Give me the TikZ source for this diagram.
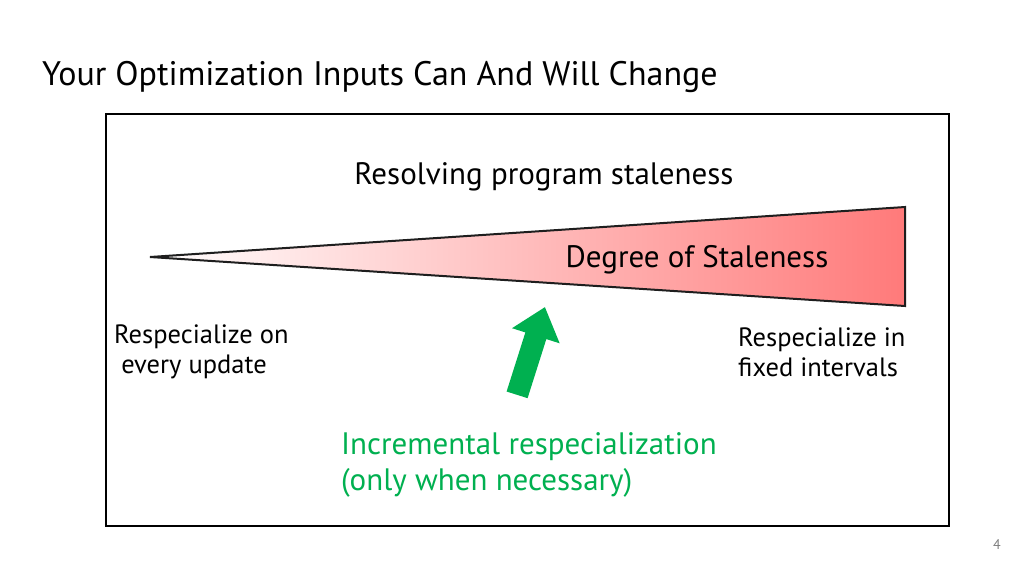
\documentclass[tikz,border=0pt]{standalone}
\usepackage{fontspec}
\setmainfont{PT Sans}
\definecolor{grn}{RGB}{0,176,80}
\definecolor{rd}{RGB}{255,122,122}
\definecolor{dk}{RGB}{30,30,30}
\begin{document}
\begin{tikzpicture}[x=1pt,y=-1pt,
  lbl/.style={inner sep=0pt,font=\fontsize{26.5}{30}\selectfont},
  ]
\useasboundingbox[fill=white] (0,0) rectangle (1024,576);
\node[anchor=west,inner sep=0pt,font=\fontsize{34}{36}\selectfont] (title) at (42,77) {Your Optimization Inputs Can And Will Change};
\node[draw=black,line width=2pt,minimum width=843pt,minimum height=412pt,anchor=north west,inner sep=0pt] (box) at (105,113) {};
\shade[left color=white,right color=rd,draw=dk,line width=2pt]
  (150,257) coordinate (tip) -- (905,207) -- (905,306) -- cycle;
\node[lbl,font=\fontsize{31}{34}\selectfont] (res) at (544,177) {Resolving program staleness};
\node[lbl,font=\fontsize{31}{34}\selectfont] (deg) at (697,260) {Degree of Staleness};
\node[lbl,anchor=west,align=left] (left) at (114,352) {Respecialize on\\\ every update};
\node[lbl,anchor=west,align=left] (right) at (738,352) {Respecialize in\\fixed intervals};
\node[lbl,anchor=west,align=left,text=grn,font=\fontsize{31}{36}\selectfont] (inc) at (341,465) {Incremental respecialization\\(only when necessary)};
\begin{scope}[shift={(531,351)},rotate=-17.6]
\fill[grn] (-11,46) -- (11,46) -- (11,-16) -- (25,-16) -- (0,-46) -- (-25,-16) -- (-11,-16) -- cycle;
\end{scope}
\node[inner sep=0pt,font=\fontsize{14}{16}\selectfont,text=gray] (pg) at (997,545) {4};
\end{tikzpicture}
\end{document}
